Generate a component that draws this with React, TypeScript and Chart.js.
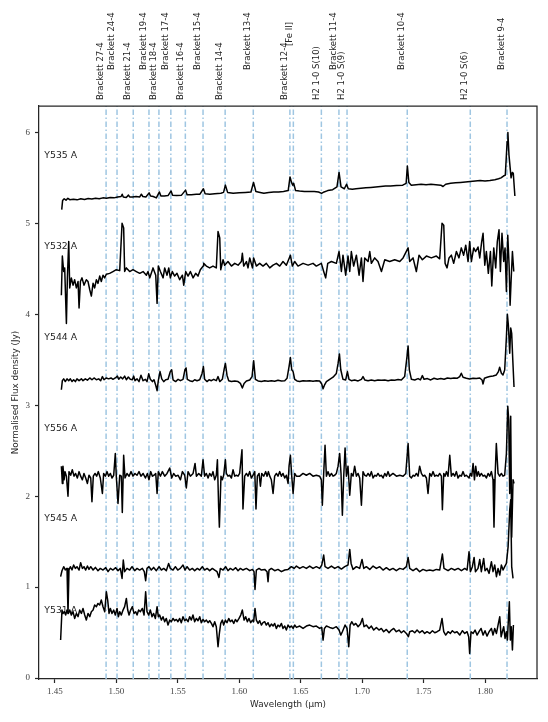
import React, { useEffect, useRef } from 'react';
import { Chart, registerables } from 'chart.js';

Chart.register(...registerables);

// ---------- axes ----------
const X_TICKS = [1.45, 1.5, 1.55, 1.6, 1.65, 1.7, 1.75, 1.8];
const Y_TICKS = [0, 1, 2, 3, 4, 5, 6];
const X_RANGE = [1.437, 1.8423];
const Y_RANGE = [-0.01, 6.29];

// ---------- line identifications ----------
const LINE_NAMES = [
  'Brackett 27-4', 'Brackett 24-4', 'Brackett 21-4', 'Brackett 19-4', 'Brackett 18-4',
  'Brackett 17-4', 'Brackett 16-4', 'Brackett 15-4', 'Brackett 14-4', 'Brackett 13-4',
  'Brackett 12-4', '[Fe II]', 'H2 1-0 S(10)', 'Brackett 11-4', 'H2 1-0 S(9)',
  'Brackett 10-4', 'H2 1-0 S(6)', 'Brackett 9-4',
];
const LINE_WAVELENGTHS = [
  1.4916, 1.5005, 1.5137, 1.5265, 1.5346, 1.5443, 1.5561, 1.5705, 1.5885, 1.6114,
  1.6412, 1.6440, 1.6668, 1.6811, 1.6877, 1.7367, 1.7880, 1.8179,
];

// ---------- spectra ----------
const SPECTRUM_NAMES = ['Y535 A', 'Y532 A', 'Y544 A', 'Y556 A', 'Y545 A', 'Y531 A'];
const SPECTRUM_LABEL_X = 1.4413;
const SPECTRUM_LABEL_Y = [5.74, 4.74, 3.74, 2.74, 1.75, 0.74];

const Y535_A: number[][] = [
  [1.4555, 5.15], [1.4562, 5.25], [1.4575, 5.27], [1.4590, 5.255], [1.4605, 5.275], [1.4620, 5.26],
  [1.4650, 5.265], [1.4680, 5.258], [1.4710, 5.27], [1.4740, 5.262], [1.4770, 5.272], [1.4800, 5.268],
  [1.4830, 5.275], [1.4860, 5.27], [1.4890, 5.28], [1.4920, 5.276], [1.4950, 5.285], [1.4980, 5.28],
  [1.5010, 5.29], [1.5038, 5.295], [1.5047, 5.32], [1.5056, 5.29], [1.5080, 5.285], [1.5098, 5.31],
  [1.5108, 5.29], [1.5130, 5.29], [1.5160, 5.295], [1.5190, 5.29], [1.5203, 5.32], [1.5215, 5.295],
  [1.5240, 5.29], [1.5266, 5.335], [1.5278, 5.30], [1.5300, 5.295], [1.5325, 5.28], [1.5350, 5.345],
  [1.5362, 5.30], [1.5390, 5.30], [1.5420, 5.305], [1.5445, 5.355], [1.5457, 5.31], [1.5490, 5.305],
  [1.5530, 5.31], [1.5563, 5.365], [1.5575, 5.315], [1.5610, 5.315], [1.5650, 5.32], [1.5680, 5.32],
  [1.5708, 5.38], [1.5722, 5.325], [1.5760, 5.32], [1.5800, 5.325], [1.5850, 5.33], [1.5872, 5.34],
  [1.5887, 5.42], [1.5905, 5.34], [1.5950, 5.33], [1.6000, 5.335], [1.6050, 5.34], [1.6095, 5.345],
  [1.6116, 5.45], [1.6135, 5.35], [1.6170, 5.34], [1.6200, 5.33], [1.6240, 5.34], [1.6280, 5.345],
  [1.6320, 5.345], [1.6360, 5.35], [1.6398, 5.36], [1.6413, 5.51], [1.6425, 5.45], [1.6435, 5.42],
  [1.6443, 5.44], [1.6458, 5.36], [1.6490, 5.355], [1.6530, 5.35], [1.6570, 5.35], [1.6610, 5.35],
  [1.6645, 5.345], [1.6670, 5.33], [1.6690, 5.345], [1.6720, 5.36], [1.6760, 5.37], [1.6795, 5.40],
  [1.6812, 5.56], [1.6828, 5.40], [1.6855, 5.38], [1.6873, 5.43], [1.6887, 5.38], [1.6920, 5.375],
  [1.6950, 5.38], [1.6990, 5.385], [1.7030, 5.39], [1.7070, 5.395], [1.7110, 5.40], [1.7150, 5.405],
  [1.7190, 5.41], [1.7230, 5.41], [1.7280, 5.415], [1.7330, 5.42], [1.7358, 5.44], [1.7368, 5.63],
  [1.7380, 5.45], [1.7400, 5.42], [1.7440, 5.425], [1.7480, 5.43], [1.7520, 5.425], [1.7560, 5.43],
  [1.7600, 5.425], [1.7640, 5.42], [1.7658, 5.405], [1.7680, 5.43], [1.7720, 5.44], [1.7760, 5.445],
  [1.7800, 5.45], [1.7840, 5.455], [1.7880, 5.46], [1.7920, 5.465], [1.7960, 5.47], [1.8000, 5.465],
  [1.8040, 5.47], [1.8080, 5.48], [1.8110, 5.49], [1.8130, 5.50], [1.8150, 5.52], [1.8165, 5.53],
  [1.8180, 5.90], [1.8186, 6.00], [1.8195, 5.75], [1.8212, 5.50], [1.8222, 5.56], [1.8230, 5.55],
  [1.8243, 5.30],
];

const Y532_A: number[][] = [
  [1.4552, 4.21], [1.4560, 4.64], [1.4571, 4.47], [1.4579, 4.51], [1.4593, 3.90], [1.4601, 4.40],
  [1.4612, 4.80], [1.4620, 4.29], [1.4633, 4.40], [1.4647, 4.32], [1.4660, 4.38], [1.4674, 4.29],
  [1.4688, 4.36], [1.4696, 4.07], [1.4707, 4.36], [1.4720, 4.40], [1.4736, 4.32], [1.4755, 4.38],
  [1.4769, 4.36], [1.4783, 4.27], [1.4796, 4.20], [1.4810, 4.34], [1.4823, 4.29], [1.4837, 4.38],
  [1.4850, 4.34], [1.4864, 4.42], [1.4877, 4.36], [1.4891, 4.43], [1.4904, 4.40], [1.4918, 4.44],
  [1.4945, 4.45], [1.4972, 4.47], [1.4999, 4.49], [1.5027, 4.48], [1.5046, 5.00], [1.5059, 4.95],
  [1.5067, 4.47], [1.5081, 4.51], [1.5108, 4.47], [1.5135, 4.49], [1.5162, 4.47], [1.5190, 4.45],
  [1.5217, 4.47], [1.5244, 4.43], [1.5257, 4.47], [1.5271, 4.40], [1.5298, 4.51], [1.5320, 4.43],
  [1.5331, 4.12], [1.5341, 4.53], [1.5358, 4.47], [1.5380, 4.40], [1.5393, 4.51], [1.5412, 4.43],
  [1.5426, 4.51], [1.5439, 4.40], [1.5455, 4.47], [1.5474, 4.42], [1.5493, 4.45], [1.5515, 4.38],
  [1.5537, 4.43], [1.5548, 4.32], [1.5564, 4.47], [1.5583, 4.42], [1.5602, 4.47], [1.5624, 4.40],
  [1.5645, 4.45], [1.5664, 4.42], [1.5683, 4.49], [1.5705, 4.53], [1.5710, 4.56], [1.5732, 4.53],
  [1.5759, 4.51], [1.5786, 4.53], [1.5813, 4.51], [1.5827, 4.91], [1.5841, 4.84], [1.5849, 4.49],
  [1.5868, 4.60], [1.5881, 4.54], [1.5908, 4.58], [1.5936, 4.53], [1.5963, 4.56], [1.5990, 4.54],
  [1.6017, 4.58], [1.6025, 4.67], [1.6036, 4.53], [1.6058, 4.58], [1.6071, 4.51], [1.6085, 4.62],
  [1.6107, 4.51], [1.6117, 4.62], [1.6139, 4.53], [1.6166, 4.56], [1.6193, 4.53], [1.6220, 4.56],
  [1.6248, 4.51], [1.6275, 4.54], [1.6302, 4.56], [1.6329, 4.53], [1.6356, 4.58], [1.6383, 4.54],
  [1.6416, 4.65], [1.6432, 4.53], [1.6451, 4.58], [1.6478, 4.53], [1.6519, 4.56], [1.6560, 4.54],
  [1.6600, 4.56], [1.6627, 4.53], [1.6668, 4.56], [1.6687, 4.47], [1.6703, 4.40], [1.6720, 4.56],
  [1.6750, 4.58], [1.6790, 4.56], [1.6812, 4.69], [1.6831, 4.47], [1.6844, 4.65], [1.6866, 4.43],
  [1.6885, 4.64], [1.6899, 4.47], [1.6912, 4.69], [1.6931, 4.53], [1.6953, 4.65], [1.6975, 4.43],
  [1.6994, 4.62], [1.7007, 4.36], [1.7021, 4.62], [1.7048, 4.58], [1.7062, 4.69], [1.7075, 4.56],
  [1.7102, 4.62], [1.7129, 4.58], [1.7157, 4.47], [1.7184, 4.60], [1.7224, 4.58], [1.7265, 4.60],
  [1.7306, 4.58], [1.7333, 4.62], [1.7374, 4.73], [1.7387, 4.58], [1.7414, 4.62], [1.7441, 4.47],
  [1.7463, 4.65], [1.7490, 4.60], [1.7523, 4.64], [1.7563, 4.62], [1.7604, 4.64], [1.7631, 4.61],
  [1.7650, 5.00], [1.7664, 4.98], [1.7675, 4.56], [1.7691, 4.51], [1.7707, 4.62], [1.7726, 4.65],
  [1.7745, 4.56], [1.7767, 4.69], [1.7788, 4.62], [1.7807, 4.73], [1.7826, 4.65], [1.7843, 4.76],
  [1.7862, 4.58], [1.7875, 4.80], [1.7889, 4.58], [1.7908, 4.73], [1.7924, 4.69], [1.7943, 4.74],
  [1.7957, 4.62], [1.7973, 4.80], [1.7984, 4.89], [1.7998, 4.54], [1.8011, 4.69], [1.8027, 4.45],
  [1.8044, 4.69], [1.8055, 4.31], [1.8071, 4.73], [1.8087, 4.51], [1.8100, 4.80], [1.8114, 4.93],
  [1.8125, 4.47], [1.8138, 4.89], [1.8152, 4.58], [1.8163, 4.73], [1.8174, 4.25], [1.8185, 4.87],
  [1.8196, 4.54], [1.8204, 4.10], [1.8212, 4.36], [1.8223, 4.69], [1.8234, 4.47],
];

const Y544_A: number[][] = [
  [1.4552, 3.17], [1.4560, 3.27], [1.4571, 3.29], [1.4584, 3.26], [1.4598, 3.29], [1.4612, 3.27],
  [1.4625, 3.29], [1.4639, 3.26], [1.4652, 3.28], [1.4666, 3.26], [1.4679, 3.29], [1.4696, 3.27],
  [1.4715, 3.29], [1.4728, 3.27], [1.4747, 3.29], [1.4764, 3.275], [1.4783, 3.30], [1.4801, 3.28],
  [1.4818, 3.30], [1.4837, 3.28], [1.4856, 3.29], [1.4872, 3.27], [1.4886, 3.315], [1.4899, 3.28],
  [1.4918, 3.30], [1.4937, 3.29], [1.4956, 3.30], [1.4972, 3.285], [1.4991, 3.30], [1.5008, 3.32],
  [1.5019, 3.285], [1.5035, 3.31], [1.5051, 3.29], [1.5067, 3.32], [1.5081, 3.28], [1.5097, 3.31],
  [1.5113, 3.285], [1.5130, 3.28], [1.5141, 3.32], [1.5151, 3.27], [1.5168, 3.29], [1.5184, 3.26],
  [1.5200, 3.33], [1.5217, 3.27], [1.5236, 3.285], [1.5249, 3.26], [1.5263, 3.345], [1.5276, 3.285],
  [1.5293, 3.26], [1.5306, 3.28], [1.5320, 3.22], [1.5331, 3.16], [1.5341, 3.27], [1.5355, 3.37],
  [1.5369, 3.29], [1.5385, 3.26], [1.5401, 3.28], [1.5420, 3.285], [1.5439, 3.37], [1.5450, 3.39],
  [1.5461, 3.28], [1.5482, 3.26], [1.5502, 3.285], [1.5521, 3.27], [1.5542, 3.285], [1.5558, 3.39],
  [1.5567, 3.41], [1.5577, 3.285], [1.5596, 3.27], [1.5618, 3.26], [1.5637, 3.28], [1.5656, 3.27],
  [1.5678, 3.28], [1.5697, 3.35], [1.5708, 3.425], [1.5718, 3.285], [1.5738, 3.26], [1.5754, 3.28],
  [1.5773, 3.27], [1.5792, 3.285], [1.5813, 3.27], [1.5827, 3.315], [1.5841, 3.26], [1.5862, 3.285],
  [1.5876, 3.39], [1.5887, 3.46], [1.5900, 3.33], [1.5914, 3.27], [1.5936, 3.26], [1.5963, 3.267],
  [1.5990, 3.26], [1.6009, 3.24], [1.6025, 3.19], [1.6039, 3.24], [1.6058, 3.267], [1.6085, 3.278],
  [1.6104, 3.315], [1.6117, 3.49], [1.6131, 3.285], [1.6153, 3.267], [1.6180, 3.26], [1.6207, 3.27],
  [1.6234, 3.264], [1.6261, 3.27], [1.6288, 3.264], [1.6315, 3.275], [1.6343, 3.267], [1.6370, 3.27],
  [1.6389, 3.297], [1.6405, 3.425], [1.6416, 3.524], [1.6427, 3.39], [1.6438, 3.37], [1.6451, 3.285],
  [1.6470, 3.267], [1.6492, 3.26], [1.6519, 3.27], [1.6546, 3.267], [1.6573, 3.27], [1.6600, 3.264],
  [1.6627, 3.27], [1.6654, 3.267], [1.6671, 3.234], [1.6682, 3.18], [1.6693, 3.22], [1.6709, 3.26],
  [1.6736, 3.285], [1.6763, 3.308], [1.6790, 3.35], [1.6804, 3.46], [1.6815, 3.564], [1.6826, 3.39],
  [1.6844, 3.285], [1.6866, 3.278], [1.6880, 3.37], [1.6893, 3.285], [1.6912, 3.27], [1.6939, 3.278],
  [1.6967, 3.267], [1.6994, 3.285], [1.7007, 3.315], [1.7021, 3.278], [1.7048, 3.27], [1.7075, 3.278],
  [1.7102, 3.27], [1.7129, 3.278], [1.7157, 3.275], [1.7184, 3.278], [1.7211, 3.27], [1.7238, 3.278],
  [1.7265, 3.275], [1.7292, 3.282], [1.7319, 3.278], [1.7346, 3.315], [1.7365, 3.535], [1.7374, 3.652],
  [1.7384, 3.388], [1.7401, 3.285], [1.7428, 3.278], [1.7455, 3.293], [1.7474, 3.278], [1.7490, 3.326],
  [1.7504, 3.285], [1.7531, 3.293], [1.7558, 3.278], [1.7585, 3.297], [1.7612, 3.286], [1.7640, 3.293],
  [1.7667, 3.286], [1.7694, 3.30], [1.7721, 3.293], [1.7748, 3.30], [1.7775, 3.297], [1.7794, 3.315],
  [1.7807, 3.352], [1.7821, 3.308], [1.7848, 3.297], [1.7875, 3.289], [1.7903, 3.297], [1.7930, 3.293],
  [1.7957, 3.30], [1.7976, 3.278], [1.7984, 3.234], [1.7995, 3.297], [1.8017, 3.308], [1.8038, 3.315],
  [1.8065, 3.322], [1.8092, 3.333], [1.8109, 3.37], [1.8119, 3.418], [1.8133, 3.352], [1.8146, 3.333],
  [1.8160, 3.388], [1.8174, 3.75], [1.8182, 4.00], [1.8190, 3.88], [1.8201, 3.572], [1.8209, 3.85],
  [1.8217, 3.79], [1.8226, 3.498], [1.8236, 3.20],
];

const Y556_A: number[][] = [
  [1.4552, 2.33], [1.4560, 2.14], [1.4565, 2.33], [1.4574, 2.18], [1.4582, 2.27], [1.4593, 2.22],
  [1.4606, 2.00], [1.4614, 2.27], [1.4628, 2.23], [1.4641, 2.29], [1.4655, 2.22], [1.4668, 2.25],
  [1.4682, 2.20], [1.4696, 2.27], [1.4709, 2.22], [1.4723, 2.18], [1.4736, 2.25], [1.4750, 2.20],
  [1.4764, 2.14], [1.4777, 2.23], [1.4791, 2.20], [1.4801, 1.94], [1.4812, 2.22], [1.4826, 2.25],
  [1.4839, 2.22], [1.4853, 2.27], [1.4869, 2.20], [1.4886, 2.03], [1.4896, 2.25], [1.4910, 2.22],
  [1.4924, 2.27], [1.4937, 2.22], [1.4951, 2.25], [1.4964, 2.20], [1.4978, 2.23], [1.4991, 2.47],
  [1.4999, 2.22], [1.5013, 1.92], [1.5027, 2.23], [1.5040, 2.22], [1.5048, 1.82], [1.5059, 2.45],
  [1.5070, 2.20], [1.5086, 2.25], [1.5103, 2.22], [1.5119, 2.27], [1.5135, 2.22], [1.5151, 2.25],
  [1.5168, 2.23], [1.5184, 2.27], [1.5200, 2.22], [1.5217, 2.25], [1.5236, 2.20], [1.5252, 2.25],
  [1.5265, 2.18], [1.5279, 2.27], [1.5293, 2.22], [1.5306, 2.23], [1.5320, 2.25], [1.5331, 2.03],
  [1.5341, 2.27], [1.5358, 2.22], [1.5374, 2.27], [1.5393, 2.22], [1.5412, 2.25], [1.5434, 2.31],
  [1.5450, 2.20], [1.5466, 2.25], [1.5482, 2.22], [1.5502, 2.23], [1.5521, 2.18], [1.5537, 2.27],
  [1.5556, 2.23], [1.5569, 2.09], [1.5583, 2.27], [1.5602, 2.22], [1.5624, 2.25], [1.5640, 2.36],
  [1.5651, 2.22], [1.5670, 2.25], [1.5691, 2.22], [1.5705, 2.40], [1.5718, 2.22], [1.5732, 2.25],
  [1.5746, 2.20], [1.5759, 2.25], [1.5773, 2.22], [1.5786, 2.27], [1.5800, 2.18], [1.5813, 2.23],
  [1.5822, 2.40], [1.5832, 1.88], [1.5838, 1.66], [1.5851, 2.22], [1.5862, 2.18], [1.5873, 2.23],
  [1.5887, 2.40], [1.5895, 2.25], [1.5908, 2.22], [1.5922, 2.23], [1.5936, 2.20], [1.5949, 2.29],
  [1.5963, 2.22], [1.5976, 2.23], [1.5990, 2.22], [1.6003, 2.25], [1.6022, 2.51], [1.6030, 1.86],
  [1.6044, 2.22], [1.6058, 2.25], [1.6071, 2.22], [1.6085, 2.27], [1.6098, 2.20], [1.6112, 2.23],
  [1.6126, 2.27], [1.6136, 1.86], [1.6147, 2.22], [1.6161, 2.25], [1.6172, 2.11], [1.6183, 2.25],
  [1.6199, 2.22], [1.6215, 2.27], [1.6226, 2.22], [1.6237, 2.27], [1.6248, 2.22], [1.6261, 2.18],
  [1.6275, 2.03], [1.6288, 2.22], [1.6302, 2.25], [1.6315, 2.22], [1.6329, 2.27], [1.6343, 2.22],
  [1.6356, 2.25], [1.6370, 2.20], [1.6383, 2.23], [1.6397, 2.14], [1.6405, 2.33], [1.6416, 2.45],
  [1.6427, 2.22], [1.6438, 2.03], [1.6451, 2.25], [1.6465, 2.22], [1.6492, 2.22], [1.6519, 2.25],
  [1.6546, 2.23], [1.6573, 2.25], [1.6600, 2.22], [1.6627, 2.23], [1.6654, 2.22], [1.6668, 2.18],
  [1.6676, 1.90], [1.6687, 2.25], [1.6698, 2.56], [1.6709, 2.22], [1.6722, 2.27], [1.6736, 2.22],
  [1.6750, 2.25], [1.6763, 2.22], [1.6777, 2.23], [1.6790, 2.25], [1.6804, 2.33], [1.6817, 2.47],
  [1.6828, 2.25], [1.6839, 1.79], [1.6850, 2.22], [1.6861, 2.53], [1.6872, 2.22], [1.6885, 2.33],
  [1.6899, 2.01], [1.6912, 2.25], [1.6926, 2.22], [1.6939, 2.33], [1.6953, 2.22], [1.6967, 2.25],
  [1.6980, 2.20], [1.6994, 1.90], [1.7007, 2.27], [1.7021, 2.23], [1.7035, 2.22], [1.7048, 2.25],
  [1.7062, 2.22], [1.7075, 2.27], [1.7089, 2.20], [1.7102, 2.23], [1.7116, 2.22], [1.7129, 2.25],
  [1.7143, 2.22], [1.7157, 2.23], [1.7170, 2.20], [1.7184, 2.25], [1.7197, 2.22], [1.7211, 2.27],
  [1.7224, 2.22], [1.7251, 2.25], [1.7279, 2.22], [1.7306, 2.23], [1.7333, 2.22], [1.7355, 2.25],
  [1.7374, 2.58], [1.7387, 2.22], [1.7401, 2.20], [1.7414, 2.23], [1.7428, 2.22], [1.7441, 2.25],
  [1.7455, 2.22], [1.7468, 2.33], [1.7482, 2.25], [1.7496, 2.22], [1.7509, 2.23], [1.7523, 2.20],
  [1.7536, 2.03], [1.7550, 2.25], [1.7563, 2.22], [1.7577, 2.27], [1.7591, 2.22], [1.7604, 2.23],
  [1.7618, 2.22], [1.7631, 2.25], [1.7645, 2.22], [1.7653, 1.85], [1.7664, 2.25], [1.7675, 2.22],
  [1.7686, 2.27], [1.7699, 2.22], [1.7713, 2.45], [1.7726, 2.22], [1.7740, 2.25], [1.7753, 2.22],
  [1.7767, 2.27], [1.7780, 2.20], [1.7794, 2.23], [1.7807, 2.22], [1.7821, 2.27], [1.7835, 2.22],
  [1.7848, 2.23], [1.7870, 2.20], [1.7881, 2.25], [1.7892, 2.22], [1.7903, 2.36], [1.7914, 2.18],
  [1.7924, 2.33], [1.7935, 2.22], [1.7946, 2.27], [1.7957, 2.22], [1.7970, 2.25], [1.7984, 2.22],
  [1.7998, 2.23], [1.8011, 2.20], [1.8025, 2.25], [1.8038, 2.22], [1.8052, 2.27], [1.8065, 2.18],
  [1.8073, 1.66], [1.8082, 2.22], [1.8092, 2.58], [1.8106, 2.25], [1.8119, 2.22], [1.8133, 2.25],
  [1.8146, 2.22], [1.8160, 2.23], [1.8174, 2.47], [1.8185, 2.99], [1.8193, 2.84], [1.8201, 2.03],
  [1.8209, 2.88], [1.8217, 1.55], [1.8228, 2.18], [1.8236, 2.14],
];

const Y545_A: number[][] = [
  [1.4546, 1.115], [1.4557, 1.18], [1.4571, 1.225], [1.4584, 1.19], [1.4598, 1.206], [1.4606, 0.71],
  [1.4614, 1.19], [1.4625, 1.225], [1.4639, 1.19], [1.4652, 1.243], [1.4666, 1.206], [1.4679, 1.225],
  [1.4696, 1.188], [1.4709, 1.269], [1.4723, 1.206], [1.4736, 1.225], [1.4750, 1.188], [1.4764, 1.232],
  [1.4777, 1.195], [1.4791, 1.225], [1.4810, 1.188], [1.4829, 1.217], [1.4850, 1.181], [1.4869, 1.206],
  [1.4891, 1.188], [1.4913, 1.214], [1.4932, 1.170], [1.4951, 1.206], [1.4972, 1.188], [1.4994, 1.214],
  [1.5013, 1.181], [1.5032, 1.206], [1.5046, 1.096], [1.5056, 1.298], [1.5067, 1.170], [1.5086, 1.206],
  [1.5108, 1.188], [1.5127, 1.225], [1.5149, 1.181], [1.5168, 1.206], [1.5189, 1.188], [1.5211, 1.206],
  [1.5227, 1.170], [1.5238, 1.071], [1.5249, 1.206], [1.5265, 1.225], [1.5284, 1.188], [1.5303, 1.217],
  [1.5325, 1.181], [1.5347, 1.225], [1.5366, 1.188], [1.5385, 1.206], [1.5406, 1.181], [1.5425, 1.261],
  [1.5439, 1.206], [1.5461, 1.188], [1.5480, 1.225], [1.5499, 1.188], [1.5520, 1.206], [1.5542, 1.243],
  [1.5558, 1.188], [1.5575, 1.225], [1.5596, 1.188], [1.5618, 1.206], [1.5637, 1.181], [1.5659, 1.206],
  [1.5678, 1.188], [1.5699, 1.225], [1.5718, 1.188], [1.5738, 1.206], [1.5759, 1.181], [1.5781, 1.206],
  [1.5800, 1.188], [1.5819, 1.170], [1.5835, 1.107], [1.5846, 1.206], [1.5868, 1.188], [1.5889, 1.225],
  [1.5908, 1.181], [1.5927, 1.206], [1.5949, 1.188], [1.5971, 1.214], [1.5990, 1.181], [1.6009, 1.206],
  [1.6030, 1.188], [1.6058, 1.206], [1.6085, 1.181], [1.6107, 1.195], [1.6120, 1.170], [1.6128, 0.975],
  [1.6139, 1.188], [1.6161, 1.206], [1.6180, 1.188], [1.6207, 1.195], [1.6226, 1.170], [1.6234, 1.06],
  [1.6242, 1.188], [1.6261, 1.206], [1.6288, 1.181], [1.6315, 1.195], [1.6343, 1.170], [1.6370, 1.188],
  [1.6397, 1.195], [1.6424, 1.225], [1.6446, 1.206], [1.6465, 1.232], [1.6492, 1.206], [1.6519, 1.225],
  [1.6546, 1.206], [1.6573, 1.232], [1.6600, 1.206], [1.6627, 1.225], [1.6654, 1.206], [1.6671, 1.243],
  [1.6687, 1.353], [1.6698, 1.225], [1.6722, 1.206], [1.6750, 1.232], [1.6777, 1.206], [1.6804, 1.225],
  [1.6831, 1.199], [1.6858, 1.225], [1.6885, 1.243], [1.6899, 1.415], [1.6910, 1.261], [1.6926, 1.195],
  [1.6953, 1.225], [1.6980, 1.206], [1.6999, 1.305], [1.7013, 1.206], [1.7034, 1.225], [1.7062, 1.195],
  [1.7089, 1.232], [1.7116, 1.206], [1.7143, 1.225], [1.7170, 1.188], [1.7197, 1.214], [1.7224, 1.188],
  [1.7251, 1.206], [1.7278, 1.181], [1.7306, 1.206], [1.7333, 1.195], [1.7360, 1.225], [1.7374, 1.327],
  [1.7387, 1.206], [1.7414, 1.181], [1.7441, 1.206], [1.7468, 1.170], [1.7495, 1.195], [1.7523, 1.181],
  [1.7550, 1.188], [1.7577, 1.181], [1.7604, 1.195], [1.7631, 1.188], [1.7653, 1.364], [1.7666, 1.206],
  [1.7699, 1.181], [1.7726, 1.206], [1.7753, 1.188], [1.7781, 1.206], [1.7808, 1.181], [1.7835, 1.206],
  [1.7854, 1.188], [1.7870, 1.39], [1.7881, 1.17], [1.7897, 1.225], [1.7911, 1.327], [1.7922, 1.17],
  [1.7943, 1.206], [1.7957, 1.305], [1.7970, 1.17], [1.7989, 1.316], [1.8000, 1.181], [1.8016, 1.206],
  [1.8033, 1.151], [1.8052, 1.28], [1.8065, 1.17], [1.8079, 1.243], [1.8093, 1.115], [1.8106, 1.206],
  [1.8120, 1.133], [1.8133, 1.243], [1.8147, 1.188], [1.8160, 1.225], [1.8174, 1.261], [1.8188, 1.445],
  [1.8201, 1.85], [1.8209, 1.96], [1.8217, 1.225], [1.8228, 1.096],
];

const Y531_A: number[][] = [
  [1.4546, 0.418], [1.4557, 0.748], [1.4565, 0.711], [1.4576, 0.730], [1.4587, 0.693], [1.4598, 0.748],
  [1.4609, 0.711], [1.4620, 0.748], [1.4633, 0.693], [1.4647, 0.730], [1.4660, 0.656], [1.4674, 0.711],
  [1.4688, 0.675], [1.4701, 0.748], [1.4715, 0.711], [1.4728, 0.766], [1.4742, 0.693], [1.4755, 0.638],
  [1.4769, 0.711], [1.4783, 0.675], [1.4796, 0.730], [1.4810, 0.748], [1.4823, 0.803], [1.4837, 0.785],
  [1.4850, 0.821], [1.4864, 0.803], [1.4877, 0.858], [1.4891, 0.785], [1.4905, 0.730], [1.4918, 0.950],
  [1.4929, 0.858], [1.4940, 0.711], [1.4951, 0.766], [1.4964, 0.711], [1.4978, 0.748], [1.4991, 0.693],
  [1.5005, 0.766], [1.5016, 0.675], [1.5027, 0.730], [1.5040, 0.693], [1.5054, 0.748], [1.5067, 0.785],
  [1.5081, 0.876], [1.5092, 0.748], [1.5103, 0.693], [1.5116, 0.748], [1.5130, 0.785], [1.5143, 0.711],
  [1.5157, 0.730], [1.5168, 0.693], [1.5181, 0.748], [1.5195, 0.730], [1.5211, 0.766], [1.5225, 0.693],
  [1.5238, 0.950], [1.5249, 0.730], [1.5263, 0.693], [1.5276, 0.748], [1.5290, 0.675], [1.5303, 0.711],
  [1.5317, 0.656], [1.5331, 0.785], [1.5341, 0.675], [1.5352, 0.693], [1.5366, 0.638], [1.5379, 0.675],
  [1.5393, 0.620], [1.5406, 0.656], [1.5420, 0.583], [1.5434, 0.638], [1.5447, 0.620], [1.5461, 0.656],
  [1.5474, 0.631], [1.5488, 0.645], [1.5501, 0.620], [1.5515, 0.656], [1.5528, 0.609], [1.5542, 0.675],
  [1.5556, 0.631], [1.5569, 0.648], [1.5583, 0.620], [1.5596, 0.675], [1.5610, 0.638], [1.5623, 0.693],
  [1.5637, 0.620], [1.5651, 0.656], [1.5664, 0.631], [1.5678, 0.675], [1.5691, 0.609], [1.5705, 0.645],
  [1.5718, 0.620], [1.5732, 0.638], [1.5746, 0.609], [1.5759, 0.631], [1.5773, 0.601], [1.5786, 0.565],
  [1.5800, 0.620], [1.5813, 0.565], [1.5827, 0.345], [1.5838, 0.491], [1.5849, 0.601], [1.5862, 0.638],
  [1.5873, 0.583], [1.5887, 0.638], [1.5900, 0.609], [1.5914, 0.656], [1.5927, 0.620], [1.5941, 0.638],
  [1.5955, 0.601], [1.5968, 0.645], [1.5982, 0.620], [1.5998, 0.656], [1.6012, 0.693], [1.6025, 0.748],
  [1.6039, 0.638], [1.6052, 0.675], [1.6066, 0.620], [1.6079, 0.656], [1.6093, 0.609], [1.6107, 0.638],
  [1.6117, 0.620], [1.6128, 0.766], [1.6139, 0.638], [1.6153, 0.601], [1.6166, 0.631], [1.6180, 0.583],
  [1.6193, 0.609], [1.6207, 0.620], [1.6220, 0.583], [1.6234, 0.609], [1.6248, 0.565], [1.6261, 0.594],
  [1.6275, 0.572], [1.6288, 0.601], [1.6302, 0.546], [1.6315, 0.583], [1.6329, 0.565], [1.6343, 0.601],
  [1.6356, 0.546], [1.6370, 0.572], [1.6383, 0.528], [1.6397, 0.583], [1.6410, 0.557], [1.6424, 0.572],
  [1.6438, 0.546], [1.6451, 0.583], [1.6465, 0.557], [1.6492, 0.572], [1.6519, 0.546], [1.6546, 0.572],
  [1.6573, 0.583], [1.6600, 0.565], [1.6627, 0.572], [1.6654, 0.546], [1.6671, 0.557], [1.6682, 0.418],
  [1.6693, 0.546], [1.6709, 0.572], [1.6736, 0.557], [1.6763, 0.546], [1.6790, 0.565], [1.6812, 0.528],
  [1.6826, 0.473], [1.6839, 0.510], [1.6850, 0.546], [1.6861, 0.583], [1.6877, 0.546], [1.6891, 0.345],
  [1.6902, 0.583], [1.6915, 0.620], [1.6932, 0.583], [1.6948, 0.601], [1.6967, 0.565], [1.6986, 0.594],
  [1.7002, 0.656], [1.7015, 0.565], [1.7034, 0.583], [1.7056, 0.546], [1.7075, 0.572], [1.7094, 0.528],
  [1.7116, 0.557], [1.7137, 0.528], [1.7156, 0.546], [1.7175, 0.510], [1.7197, 0.535], [1.7219, 0.499],
  [1.7238, 0.528], [1.7257, 0.546], [1.7278, 0.510], [1.7300, 0.528], [1.7319, 0.499], [1.7338, 0.521],
  [1.7360, 0.491], [1.7376, 0.455], [1.7387, 0.510], [1.7409, 0.521], [1.7428, 0.499], [1.7447, 0.528],
  [1.7468, 0.499], [1.7490, 0.521], [1.7509, 0.491], [1.7528, 0.510], [1.7550, 0.491], [1.7572, 0.521],
  [1.7591, 0.499], [1.7610, 0.510], [1.7631, 0.528], [1.7650, 0.656], [1.7664, 0.510], [1.7680, 0.473],
  [1.7699, 0.510], [1.7718, 0.491], [1.7734, 0.521], [1.7753, 0.499], [1.7772, 0.510], [1.7794, 0.473],
  [1.7816, 0.521], [1.7835, 0.491], [1.7854, 0.510], [1.7867, 0.455], [1.7875, 0.271], [1.7886, 0.510],
  [1.7903, 0.491], [1.7919, 0.528], [1.7935, 0.473], [1.7951, 0.510], [1.7968, 0.546], [1.7984, 0.473],
  [1.8000, 0.521], [1.8016, 0.462], [1.8033, 0.510], [1.8052, 0.546], [1.8065, 0.473], [1.8079, 0.546],
  [1.8093, 0.491], [1.8106, 0.583], [1.8120, 0.675], [1.8131, 0.455], [1.8141, 0.510], [1.8152, 0.565],
  [1.8163, 0.436], [1.8174, 0.510], [1.8182, 0.418], [1.8190, 0.638], [1.8198, 0.840], [1.8206, 0.418],
  [1.8214, 0.565], [1.8223, 0.308], [1.8231, 0.583],
];

const SPECTRA = [Y535_A, Y532_A, Y544_A, Y556_A, Y545_A, Y531_A];

// ---------- styling ----------
const INK = '#262626';
const LINE_BLUE = '#9fc6e2';
const SANS = '"DejaVu Sans", sans-serif';
const SERIF = '"Liberation Serif", serif';

const labelsPlugin = {
  id: 'specLabels',
  beforeDatasetsDraw(chart: any) {
    const { ctx, scales } = chart;
    ctx.save();
    ctx.fillStyle = INK;
    ctx.font = `9.3px ${SANS}`;
    ctx.textAlign = 'left';
    ctx.textBaseline = 'middle';
    SPECTRUM_NAMES.forEach((name, i) => {
      ctx.fillText(name, scales.x.getPixelForValue(SPECTRUM_LABEL_X), scales.y.getPixelForValue(SPECTRUM_LABEL_Y[i]));
    });
    ctx.restore();
  },
  afterDraw(chart: any) {
    const { ctx, scales, chartArea } = chart;
    ctx.save();
    // top and right spines
    ctx.strokeStyle = INK;
    ctx.lineWidth = 1.25;
    ctx.beginPath();
    ctx.moveTo(chartArea.left, chartArea.top);
    ctx.lineTo(chartArea.right, chartArea.top);
    ctx.lineTo(chartArea.right, chartArea.bottom);
    ctx.stroke();
    // line identifications above the axes
    const tiers = [0, 1, 0, 1, 0, 1, 0, 1, 0, 1, 0, 2, 0, 1, 0, 1, 0, 1];
    const tierBottom = [100, 70, 46];
    ctx.fillStyle = INK;
    ctx.font = `8.5px ${SANS}`;
    ctx.textAlign = 'left';
    ctx.textBaseline = 'middle';
    LINE_NAMES.forEach((name, i) => {
      const x = scales.x.getPixelForValue(LINE_WAVELENGTHS[i]) - (tiers[i] === 2 ? 4 : 5);
      ctx.save();
      ctx.translate(x, tierBottom[tiers[i]]);
      ctx.rotate(-Math.PI / 2);
      ctx.fillText(name, 0, 0);
      ctx.restore();
    });
    ctx.restore();
  },
};

export default function App() {
  const ref = useRef<HTMLCanvasElement | null>(null);

  useEffect(() => {
    if (!ref.current) return;
    const spectrumSets = SPECTRA.map((s, i) => ({
      label: SPECTRUM_NAMES[i],
      data: s.map(([x, y]) => ({ x, y })),
      borderColor: '#000000',
      borderWidth: 1.5,
      borderJoinStyle: 'round',
      pointRadius: 0,
      tension: 0,
      fill: false,
      order: 0,
    }));
    const lineSets = LINE_WAVELENGTHS.map((w, i) => ({
      label: LINE_NAMES[i],
      data: [{ x: w, y: Y_RANGE[0] }, { x: w, y: Y_RANGE[1] }],
      borderColor: LINE_BLUE,
      borderWidth: 1.5,
      borderDash: [5.5, 2.5, 1.5, 2.5],
      pointRadius: 0,
      fill: false,
      order: 1,
    }));

    const chart = new Chart(ref.current, {
      type: 'line',
      data: { datasets: [...spectrumSets, ...lineSets] as any },
      options: {
        animation: false,
        responsive: false,
        devicePixelRatio: 1,
        layout: { padding: { top: 106, right: 11, left: 0, bottom: 0 } },
        plugins: { legend: { display: false }, tooltip: { enabled: false } },
        scales: {
          x: {
            type: 'linear',
            min: X_RANGE[0],
            max: X_RANGE[1],
            afterFit: (s: any) => { s.height = 43; },
            afterBuildTicks: (s: any) => { s.ticks = X_TICKS.map((v) => ({ value: v })); },
            ticks: {
              callback: (v: any) => Number(v).toFixed(2),
              font: { family: SERIF, size: 9 },
              color: '#444',
              padding: 3,
              maxRotation: 0,
              autoSkip: false,
            },
            grid: { drawOnChartArea: false, drawTicks: true, tickLength: 4, tickWidth: 1.2, tickColor: INK },
            border: { display: true, color: INK, width: 1.25 },
            title: {
              display: true,
              text: 'Wavelength (\u03bcm)',
              font: { family: SANS, size: 8.8 },
              color: INK,
              padding: { top: 0, bottom: 12 },
            },
          },
          y: {
            type: 'linear',
            min: Y_RANGE[0],
            max: Y_RANGE[1],
            afterFit: (s: any) => { s.width = 39; },
            afterBuildTicks: (s: any) => { s.ticks = Y_TICKS.map((v) => ({ value: v })); },
            ticks: {
              callback: (v: any) => String(v),
              font: { family: SERIF, size: 9 },
              color: '#444',
              padding: 5,
            },
            grid: { drawOnChartArea: false, drawTicks: true, tickLength: 4, tickWidth: 1.2, tickColor: INK },
            border: { display: true, color: INK, width: 1.25 },
            title: {
              display: true,
              text: 'Normalised Flux density (Jy)',
              font: { family: SANS, size: 8.8 },
              color: INK,
              padding: { top: 10, bottom: 0 },
            },
          },
        },
      },
      plugins: [labelsPlugin],
    });
    return () => chart.destroy();
  }, []);

  return (
    <div style={{ position: 'absolute', left: 0, top: 0, width: 548, height: 722, background: '#fff' }}>
      <canvas ref={ref} width={548} height={722} style={{ display: 'block' }} />
    </div>
  );
}
